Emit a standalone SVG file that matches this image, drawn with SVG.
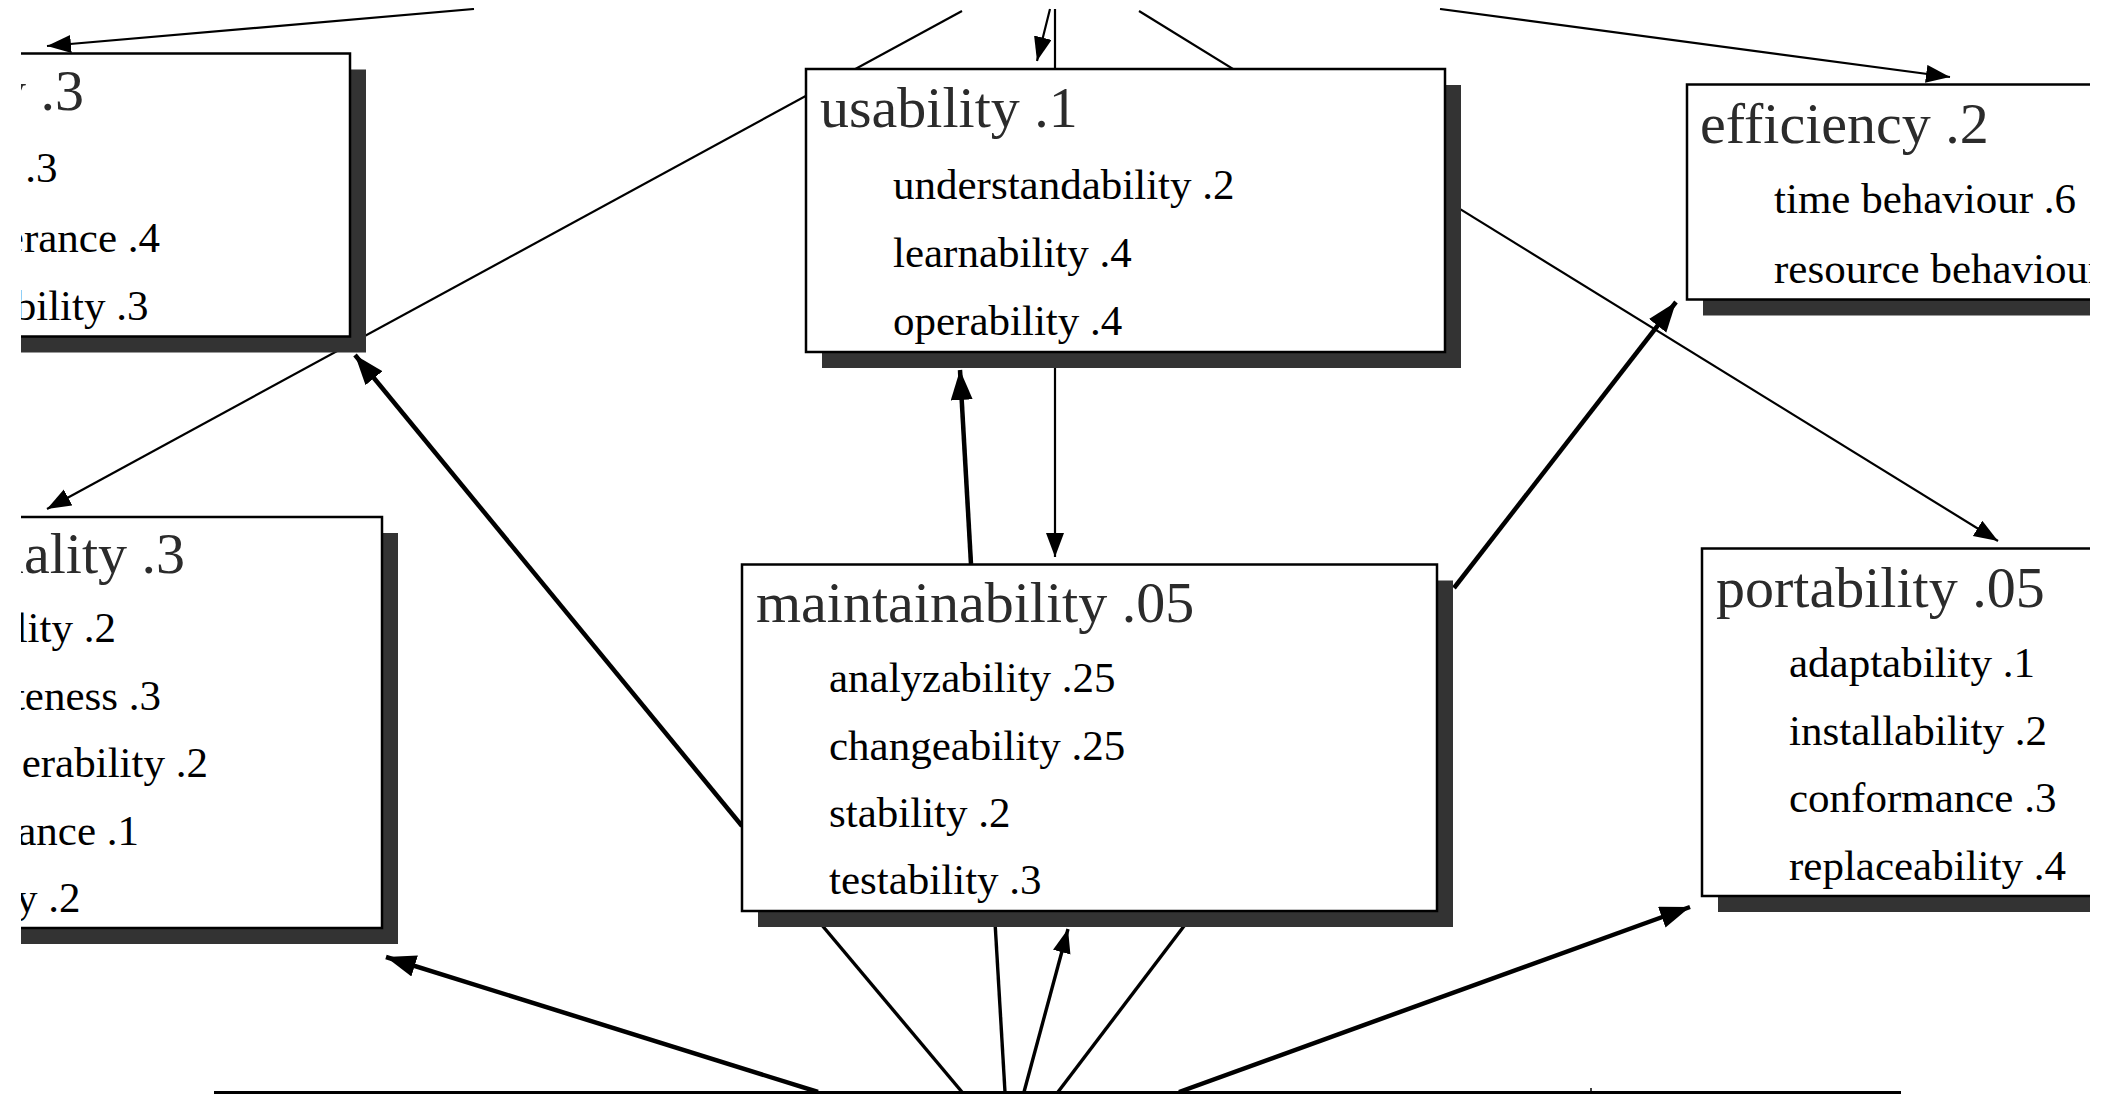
<svg xmlns="http://www.w3.org/2000/svg" width="2101" height="1094" viewBox="0 0 2101 1094">
  <style>
    .box { fill: #fff; stroke: #000; stroke-width: 2.5; }
    .shadow { fill: #333; }
    .title { font-family: "Liberation Serif", "Times New Roman", serif; font-size: 58px; fill: #2b2b2b; }
    .item { font-family: "Liberation Serif", "Times New Roman", serif; font-size: 43px; fill: #000; }
    .end { text-anchor: end; }
    .thin { stroke: #000; stroke-width: 2.2; fill: none; }
    .mid { stroke: #000; stroke-width: 3.4; fill: none; }
    .thick { stroke: #000; stroke-width: 4.5; fill: none; }
  </style>
  <defs>
    <marker id="arrow" markerUnits="userSpaceOnUse" markerWidth="26" markerHeight="20" refX="24" refY="9" orient="auto">
      <path d="M0,0 L24,9 L0,18 z" fill="#000"/>
    </marker>
    <marker id="arrow-bold" markerUnits="userSpaceOnUse" markerWidth="32" markerHeight="24" refX="30" refY="11" orient="auto">
      <path d="M0,0 L30,11 L0,22 z" fill="#000"/>
    </marker>
    <clipPath id="frame">
      <rect x="21" y="8" width="2069" height="1086"/>
    </clipPath>
  </defs>
  <rect width="2101" height="1094" fill="#fff"/>
  <g clip-path="url(#frame)">
    <!-- connectors, drawn beneath the nodes -->
    <g id="connectors">
      <path class="thin" d="M474,9 L47,46" stroke-width="2.6" marker-end="url(#arrow)"/>
      <path class="thin" d="M962,11 L47,509" marker-end="url(#arrow)"/>
      <path class="thin" d="M1050,9 L1037,61" marker-end="url(#arrow)"/>
      <path class="thin" d="M1055,9 L1055,557" marker-end="url(#arrow)"/>
      <path class="thin" d="M1139,11 L1998,541" marker-end="url(#arrow)"/>
      <path class="thin" d="M1440,9 L1950,77" stroke-width="2.5" marker-end="url(#arrow)"/>
      <path class="mid" d="M962,1092 L805,905"/>
      <path class="mid" d="M1005,1092 L994,905"/>
      <path class="mid" d="M1024,1092 L1068,929" marker-end="url(#arrow)"/>
      <path class="mid" d="M1058,1092 L1200,905"/>
      <path class="thick" d="M742,826 L355,355" marker-end="url(#arrow-bold)"/>
      <path class="thick" d="M971,564 L960,370" marker-end="url(#arrow-bold)"/>
      <path class="thick" d="M1454,588 L1676,302" marker-end="url(#arrow-bold)"/>
      <path class="thick" d="M818,1092 L386,957" marker-end="url(#arrow-bold)"/>
      <path class="thick" d="M1179,1092 L1690,907" marker-end="url(#arrow-bold)"/>
    </g>

    <g id="reliability">
      <rect class="shadow" x="-84" y="69.5" width="450" height="283"/>
      <rect class="box" x="-100" y="53.5" width="450" height="283"/>
      <text class="title end" x="84" y="110">y .3</text>
      <text class="item end" x="57.5" y="182">.3</text>
      <text class="item end" x="160" y="252">erance .4</text>
      <text class="item end" x="148.5" y="320">bility .3</text>
    </g>

    <g id="functionality">
      <rect class="shadow" x="-84" y="533" width="482" height="411"/>
      <rect class="box" x="-100" y="517" width="482" height="411"/>
      <text class="title end" x="185" y="573">uality .3</text>
      <text class="item end" x="116" y="642">lity .2</text>
      <text class="item end" x="161" y="710">teness .3</text>
      <text class="item end" x="208" y="777">perability .2</text>
      <text class="item end" x="139" y="845">ance .1</text>
      <text class="item end" x="80.5" y="912">y .2</text>
    </g>

    <g id="usability">
      <rect class="shadow" x="822" y="85" width="639" height="283"/>
      <rect class="box" x="806" y="69" width="639" height="283"/>
      <text class="title" x="820" y="126.5">usability .1</text>
      <text class="item" x="893" y="199">understandability .2</text>
      <text class="item" x="893" y="266.5">learnability .4</text>
      <text class="item" x="893" y="334.5">operability .4</text>
    </g>

    <g id="efficiency">
      <rect class="shadow" x="1703" y="100.5" width="500" height="215"/>
      <rect class="box" x="1687" y="84.5" width="500" height="215"/>
      <text class="title" x="1700" y="143">efficiency .2</text>
      <text class="item" x="1774" y="213">time behaviour .6</text>
      <text class="item" x="1774" y="283">resource behaviour</text>
    </g>

    <g id="maintainability">
      <rect class="shadow" x="758" y="580.5" width="695" height="346.5"/>
      <rect class="box" x="742" y="564.5" width="695" height="346.5"/>
      <text class="title" x="756" y="622">maintainability .05</text>
      <text class="item" x="829" y="692">analyzability .25</text>
      <text class="item" x="829" y="760">changeability .25</text>
      <text class="item" x="829" y="827">stability .2</text>
      <text class="item" x="829" y="893.5">testability .3</text>
    </g>

    <g id="portability">
      <rect class="shadow" x="1718" y="564.5" width="500" height="347.5"/>
      <rect class="box" x="1702" y="548.5" width="500" height="347.5"/>
      <text class="title" x="1716" y="607">portability .05</text>
      <text class="item" x="1789" y="677">adaptability .1</text>
      <text class="item" x="1789" y="745">installability .2</text>
      <text class="item" x="1789" y="812">conformance .3</text>
      <text class="item" x="1789" y="880">replaceability .4</text>
    </g>

    <!-- upper edge of the overall quality node -->
    <g id="quality">
      <path d="M214,1092.5 L1901,1092.5" stroke="#000" stroke-width="3"/>
      <path d="M1591,1088 L1591,1092" stroke="#000" stroke-width="1.5"/>
    </g>
  </g>
</svg>
